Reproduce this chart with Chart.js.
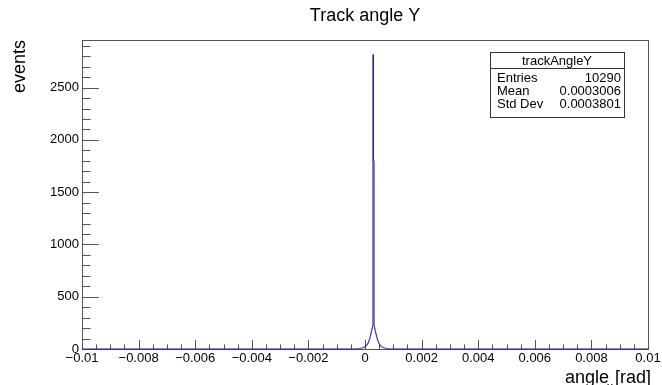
<!DOCTYPE html>
<html>
<head>
<meta charset="utf-8">
<title>Track angle Y</title>
<script src="https://cdn.jsdelivr.net/npm/chart.js@4.4.1/dist/chart.umd.min.js"></script>
<style>
    html, body { margin: 0; padding: 0; background: #fff; }
    #chart-wrap { width: 662px; height: 385px; }
</style>
</head>
<body>
<div id="chart-wrap"><canvas id="track-angle-chart"></canvas></div>
<script>
// trackAngleY: 1000 bins on [-0.01, 0.01], only the filled region is listed
const histLow = -0.01;
const histHigh = 0.01;
const binWidth = 0.00002;
const firstBin = 484; // index of the first bin in binCounts
const binCounts = [
    2, 2, 3, 3, 4, 5, 5, 6, 7, 8,
    9, 10, 12, 14, 16, 19, 23, 27, 33, 40,
    48, 58, 70, 85, 102, 122, 145, 170, 196, 220,
    2815, 1800,
    218, 193, 168, 143, 121, 101, 84, 69, 57, 47,
    39, 32, 27, 22, 19, 16, 13, 11, 10, 8,
    7, 6, 5, 4, 4, 3, 3, 2, 2, 1
];

const xTickValues = [-0.01, -0.008, -0.006, -0.004, -0.002, 0, 0.002, 0.004, 0.006, 0.008, 0.01];
const xTickLabels = ['\u22120.01', '\u22120.008', '\u22120.006', '\u22120.004', '\u22120.002', '0',
    '0.002', '0.004', '0.006', '0.008', '0.01'];
const yTickValues = [0, 500, 1000, 1500, 2000, 2500];
const yTickLabels = ['0', '500', '1000', '1500', '2000', '2500'];

const statsTitle = 'trackAngleY';
const statsNames = ['Entries', 'Mean', 'Std Dev'];
const statsValues = ['10290', '0.0003006', '0.0003801'];

const font = (size) => `${size}px "Liberation Sans", Arial, Helvetica, sans-serif`;

// --- Histogram as step line (points at bin centres, steps on the bin edges) ---
const histPoints = [
    { x: histLow, y: 0 },
    { x: histLow + (firstBin - 0.5) * binWidth, y: 0 }
];
binCounts.forEach((count, i) => {
    histPoints.push({ x: histLow + (firstBin + i + 0.5) * binWidth, y: count });
});
histPoints.push({ x: histLow + (firstBin + binCounts.length + 0.5) * binWidth, y: 0 });
histPoints.push({ x: histHigh, y: 0 });

const yMax = Math.max(...binCounts) * 1.05;

// --- Frame, inward ticks and labels in ROOT style ---
const rootAxes = {
    id: 'rootAxes',
    beforeDatasetsDraw(chart) {
        const { ctx, chartArea: area, scales: { x, y } } = chart;
        ctx.save();
        ctx.strokeStyle = '#555';
        ctx.lineWidth = 1;
        ctx.strokeRect(Math.round(area.left) + 0.5, Math.round(area.top) + 0.5,
            area.right - area.left, area.bottom - area.top);

        ctx.beginPath();
        // x ticks: 4 subdivisions per labelled step
        const xStep = (xTickValues[1] - xTickValues[0]) / 4;
        const xCount = Math.round((histHigh - histLow) / xStep);
        for (let k = 0; k <= xCount; k++) {
            const px = Math.round(x.getPixelForValue(histLow + k * xStep)) + 0.5;
            const len = k % 4 === 0 ? 9 : 4.5;
            ctx.moveTo(px, area.bottom);
            ctx.lineTo(px, area.bottom - len);
        }
        // y ticks: 5 subdivisions per labelled step
        const yStep = (yTickValues[1] - yTickValues[0]) / 5;
        for (let k = 0; k * yStep <= yMax; k++) {
            const py = Math.round(y.getPixelForValue(k * yStep)) + 0.5;
            const len = k % 5 === 0 ? 17 : 8.5;
            ctx.moveTo(area.left, py);
            ctx.lineTo(area.left + len, py);
        }
        ctx.stroke();

        ctx.fillStyle = '#000';
        ctx.font = font(13);
        ctx.textAlign = 'center';
        ctx.textBaseline = 'top';
        xTickValues.forEach((v, i) => {
            ctx.fillText(xTickLabels[i], x.getPixelForValue(v), area.bottom + 3);
        });
        ctx.textAlign = 'right';
        ctx.textBaseline = 'middle';
        yTickValues.forEach((v, i) => {
            ctx.fillText(yTickLabels[i], area.left - 3, y.getPixelForValue(v));
        });

        // titles
        ctx.font = font(18);
        ctx.textBaseline = 'alphabetic';
        ctx.textAlign = 'center';
        ctx.fillText('Track angle Y', (area.left + area.right) / 2, 21);

        ctx.textAlign = 'right';
        ctx.fillText('angle', 609, 383);
        ctx.textAlign = 'left';
        ctx.fillText('[rad]', 615, 383);
        ctx.font = font(12);
        ctx.fillText('x', 607, 391);

        ctx.save();
        ctx.font = font(18);
        ctx.translate(25, 40);
        ctx.rotate(-Math.PI / 2);
        ctx.textAlign = 'right';
        ctx.fillText('events', 0, 0);
        ctx.restore();
        ctx.restore();
    },
    afterDraw(chart) {
        // stats box
        const { ctx } = chart;
        const left = 490, top = 52, width = 134, height = 65;
        ctx.save();
        ctx.fillStyle = '#fff';
        ctx.fillRect(left, top, width, height);
        ctx.strokeStyle = '#333';
        ctx.lineWidth = 1;
        ctx.strokeRect(left + 0.5, top + 0.5, width, height);
        ctx.beginPath();
        ctx.moveTo(left, top + 16.5);
        ctx.lineTo(left + width, top + 16.5);
        ctx.stroke();

        ctx.fillStyle = '#000';
        ctx.font = font(13);
        ctx.textAlign = 'center';
        ctx.fillText(statsTitle, left + width / 2, top + 13);
        statsNames.forEach((name, i) => {
            const baseline = top + 30 + i * 13;
            ctx.textAlign = 'left';
            ctx.fillText(name, left + 7, baseline);
            ctx.textAlign = 'right';
            ctx.fillText(statsValues[i], left + width - 3, baseline);
        });
        ctx.restore();
    }
};

new Chart(document.getElementById('track-angle-chart'), {
    type: 'line',
    data: {
        datasets: [{
            label: statsTitle,
            data: histPoints,
            borderColor: '#1c1c9c',
            borderWidth: 1,
            pointRadius: 0,
            stepped: 'middle',
            fill: false,
            clip: false
        }]
    },
    options: {
        responsive: true,
        maintainAspectRatio: false,
        animation: false,
        layout: { padding: { left: 82, right: 14, top: 40, bottom: 36 } },
        plugins: {
            legend: { display: false },
            tooltip: { enabled: false }
        },
        scales: {
            x: { type: 'linear', min: histLow, max: histHigh, display: false },
            y: { min: 0, max: yMax, display: false }
        }
    },
    plugins: [rootAxes]
});
</script>
</body>
</html>
